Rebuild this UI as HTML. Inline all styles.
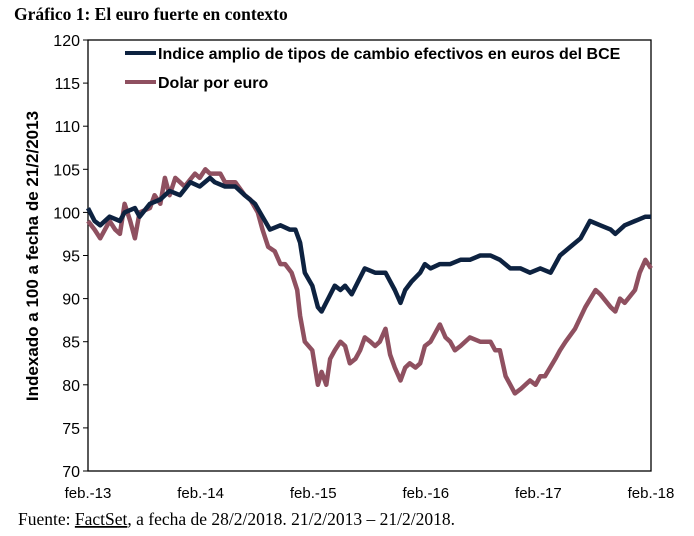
<!DOCTYPE html>
<html><head><meta charset="utf-8"><style>
body{margin:0;background:#fff;width:694px;height:536px;overflow:hidden}
svg{display:block}
</style></head><body>
<svg id="chart" width="694" height="536" xmlns="http://www.w3.org/2000/svg">
<text x="14" y="20" font-family="Liberation Serif, serif" font-weight="bold" font-size="17.5">Gráfico 1: El euro fuerte en contexto</text>
<rect x="88" y="40" width="563" height="431" fill="none" stroke="#000" stroke-width="1.3"/>
<g id="yaxis"></g>
<g id="xaxis"></g>
<g id="series"></g>
<text transform="translate(38,256) rotate(-90)" text-anchor="middle" font-family="Liberation Sans, sans-serif" font-weight="bold" font-size="17">Indexado a 100 a fecha de 21/2/2013</text>
<g>
<line x1="125" y1="53" x2="156" y2="53" stroke="#0d2240" stroke-width="4"/>
<text x="158" y="59" font-family="Liberation Sans, sans-serif" font-weight="bold" font-size="16">Indice amplio de tipos de cambio efectivos en euros del BCE</text>
<line x1="125" y1="82" x2="156" y2="82" stroke="#8f5060" stroke-width="4"/>
<text x="158" y="88" font-family="Liberation Sans, sans-serif" font-weight="bold" font-size="16">Dolar por euro</text>
</g>
<text x="18" y="525" font-family="Liberation Serif, serif" font-size="17.5">Fuente: <tspan text-decoration="underline">FactSet</tspan>, a fecha de 28/2/2018. 21/2/2013 – 21/2/2018.</text>
</svg>
<script>
const yTicks=[70,75,80,85,90,95,100,105,110,115,120];
const xLabels=["feb.-13","feb.-14","feb.-15","feb.-16","feb.-17","feb.-18"];
const ecbMonths=[0,0.7,1.3,2.3,3.4,3.9,5.0,5.5,6.6,7.7,8.7,9.8,10.9,11.9,13.0,13.5,14.6,15.7,16.7,17.8,18.6,19.4,20.5,21.5,22.1,22.6,23.1,23.9,24.5,24.9,25.6,26.3,26.9,27.4,28.1,28.8,29.5,30.6,31.7,32.7,33.3,33.8,34.5,35.4,35.9,36.5,37.5,38.6,39.7,40.7,41.8,42.9,43.9,45.0,46.1,47.1,48.2,49.3,50.3,51.4,52.5,53.5,54.6,55.7,56.2,57.2,58.3,59.4,60];
const ecbValues=[100.5,99,98.5,99.5,99,100,100.5,99.5,101,101.5,102.5,102,103.5,103,104,103.5,103,103,102,101,99.5,98,98.5,98,98,96.5,93,91.5,89,88.5,90,91.5,91,91.5,90.5,92,93.5,93,93,91,89.5,91,92,93,94,93.5,94,94,94.5,94.5,95,95,94.5,93.5,93.5,93,93.5,93,95,96,97,99,98.5,98,97.5,98.5,99,99.5,99.5];
const usdMonths=[0,0.7,1.3,2.3,2.9,3.4,3.9,4.5,5.0,5.5,6.6,7.1,7.7,8.2,8.7,9.3,9.8,10.3,11.4,11.9,12.5,13.0,14.1,14.6,15.7,16.7,17.3,18.1,18.6,19.2,19.9,20.5,21.0,21.7,22.3,22.6,23.1,23.9,24.5,24.9,25.4,25.8,26.3,26.9,27.4,27.9,28.5,29.0,29.5,30.1,30.6,31.1,31.7,32.2,32.7,33.3,33.8,34.3,34.9,35.4,35.9,36.5,37.0,37.5,38.1,38.6,39.1,39.7,40.7,41.8,42.9,43.4,43.9,44.5,45.0,45.5,46.1,47.1,47.7,48.2,48.7,49.8,50.3,50.9,51.9,53.0,54.1,54.6,55.7,56.2,56.7,57.2,58.3,58.8,59.4,60];
const usdValues=[99,98,97,99,98,97.5,101,99,97,100,100.5,102,101,104,102,104,103.5,103,104.5,104,105,104.5,104.5,103.5,103.5,102,101.5,100,98,96,95.5,94,94,93,91,88,85,84,80,81.5,80,83,84,85,84.5,82.5,83,84,85.5,85,84.5,85,86.5,83.5,82,80.5,82,82.5,82,82.5,84.5,85,86,87,85.5,85,84,84.5,85.5,85,85,84,84,81,80,79,79.5,80.5,80,81,81,83,84,85,86.5,89,91,90.5,89,88.5,90,89.5,91,93,94.5,93.5];
const X0=88,X1=651,Y0=471,Y1=40;
const xScale=m=>X0+(X1-X0)*m/60;
const yScale=v=>Y0-(Y0-Y1)*(v-70)/50;
const NS="http://www.w3.org/2000/svg";
const ya=document.getElementById('yaxis'),xa=document.getElementById('xaxis'),sg=document.getElementById('series');
yTicks.forEach(t=>{
 const y=yScale(t);
 const l=document.createElementNS(NS,'line');
 
 
 l.setAttribute('x1',X0-5);l.setAttribute('x2',X0);l.setAttribute('y1',y);l.setAttribute('y2',y);l.setAttribute('stroke','#000');
 ya.appendChild(l);
 const tx=document.createElementNS(NS,'text');
 
 
 tx.setAttribute('x',X0-8);tx.setAttribute('y',y+6);tx.setAttribute('text-anchor','end');
 tx.setAttribute('font-family','Liberation Sans, sans-serif');tx.setAttribute('font-size','16');
 tx.textContent=t;ya.appendChild(tx);
});
xLabels.forEach((s,i)=>{
 const x=xScale(i*12);
 const tx=document.createElementNS(NS,'text');
 
 
 tx.setAttribute('x',x);tx.setAttribute('y',Y0+27);tx.setAttribute('text-anchor','middle');
 tx.setAttribute('font-family','Liberation Sans, sans-serif');tx.setAttribute('font-size','15');
 tx.textContent=s;xa.appendChild(tx);
});
function draw(ms,vs,color,name){
 const p=document.createElementNS(NS,'path');
 
 
 p.setAttribute('d',ms.map((m,i)=>(i?'L':'M')+xScale(m).toFixed(1)+','+yScale(vs[i]).toFixed(1)).join(''));
 p.setAttribute('fill','none');p.setAttribute('stroke',color);p.setAttribute('stroke-width','4.5');p.setAttribute('stroke-linejoin','round');
 sg.appendChild(p);
}
draw(usdMonths,usdValues,'#8f5060','usd-per-euro-line');
draw(ecbMonths,ecbValues,'#0d2240','ecb-index-line');
</script>
</body></html>
